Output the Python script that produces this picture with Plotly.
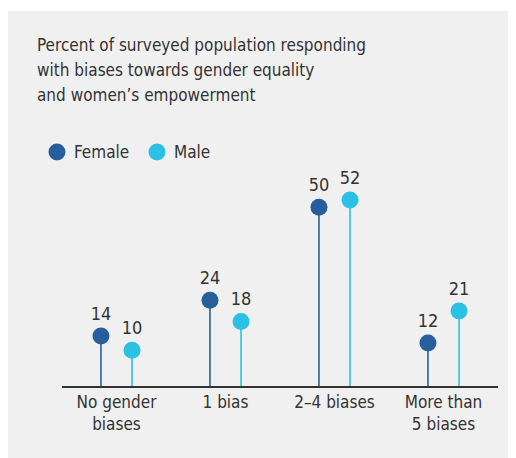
import plotly.graph_objects as go

categories = ["No gender<br>biases", "1 bias", "2\u20134 biases", "More than<br>5 biases"]
female = [14, 24, 50, 12]
male = [10, 18, 52, 21]
series_names = ["Female", "Male"]
colors = ["#265f9b", "#2bc1e5"]
title_lines = ["Percent of surveyed population responding",
               "with biases towards gender equality",
               "and women\u2019s empowerment"]

FONT = "DejaVu Sans Condensed, Liberation Sans Narrow, sans-serif"
TXT = "#333333"

# figure is rendered with an 8px page offset; coordinates below are figure pixels
W, H = 516, 458
ml, mr, mt, mb = 54, 26, 178, 80
pw = W - ml - mr
ph = H - mt - mb

def px2paper(x, y):
    return (x - ml) / pw, (H - mb - y) / ph

fig = go.Figure()
for name, vals, col in zip(series_names, [female, male], colors):
    fig.add_trace(go.Scatter(
        x=categories, y=vals, name=name, mode="markers+text",
        text=[str(v) for v in vals], textposition="top center",
        textfont=dict(family=FONT, size=18, color=TXT),
        marker=dict(color=col, size=17, line=dict(width=0)),
        error_y=dict(type="data", symmetric=False, array=[0]*len(vals),
                     arrayminus=vals, color=col, thickness=1.6, width=0),
        offsetgroup=name, cliponaxis=False, showlegend=False,
    ))

# background panel
x0, y0 = px2paper(0, 470)
x1, y1 = px2paper(530, 3)
fig.add_shape(type="rect", xref="paper", yref="paper", x0=x0, x1=x1, y0=y0, y1=y1,
              fillcolor="#f0f0f0", line=dict(width=0), layer="below")

# title lines
for i, line in enumerate(title_lines):
    tx, ty = px2paper(27, 37 + 25 * i)
    fig.add_annotation(xref="paper", yref="paper", x=tx, y=ty, xanchor="left", yanchor="middle",
                       text=line, showarrow=False, align="left",
                       font=dict(family=FONT, size=17, color=TXT))

# legend
legend_pos = [(49, 165), (149, 265)]
for (cx, txx), name, col in zip(legend_pos, series_names, colors):
    r = 8.5
    ax0, ay0 = px2paper(cx - r, 144 + r)
    ax1, ay1 = px2paper(cx + r, 144 - r)
    fig.add_shape(type="circle", xref="paper", yref="paper", x0=ax0, x1=ax1, y0=ay0, y1=ay1,
                  fillcolor=col, line=dict(width=0))
    lx, ly = px2paper(cx + 15, 144)
    fig.add_annotation(xref="paper", yref="paper", x=lx, y=ly, xanchor="left", yanchor="middle",
                       text=name, showarrow=False,
                       font=dict(family=FONT, size=17, color=TXT))

fig.update_layout(
    width=W, height=H,
    margin=dict(l=ml, r=mr, t=mt, b=mb, pad=0),
    paper_bgcolor="white", plot_bgcolor="rgba(0,0,0,0)",
    scattermode="group", scattergap=0.43,
    showlegend=False,
    xaxis=dict(showgrid=False, zeroline=False, showline=True, linecolor="#333333", linewidth=1.5,
               ticks="", tickfont=dict(family=FONT, size=17, color=TXT), fixedrange=True),
    yaxis=dict(range=[0, ph / 3.577], visible=False, showgrid=False, zeroline=False, fixedrange=True),
    font=dict(family=FONT, color=TXT),
)
fig.write_html("out.html")
